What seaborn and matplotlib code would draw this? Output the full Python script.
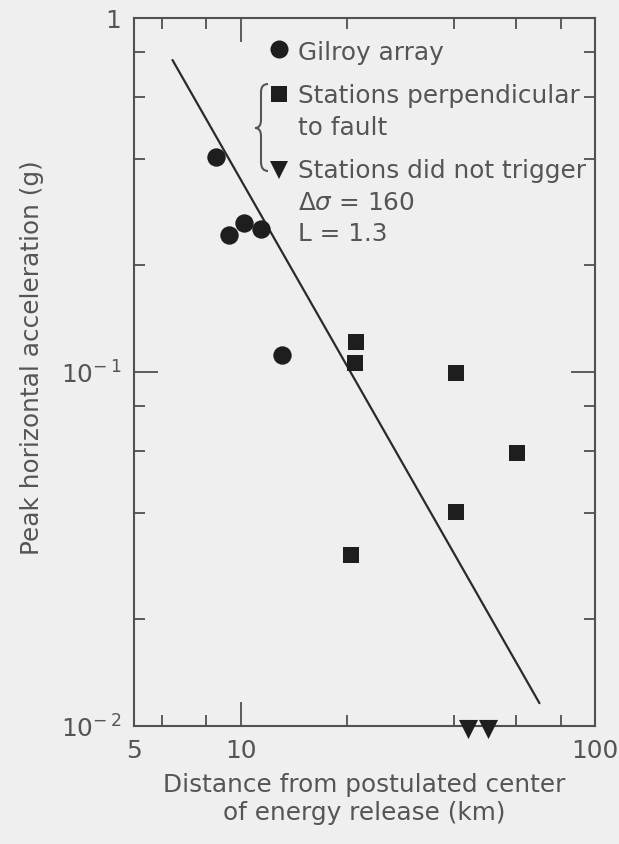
import numpy as np
import pandas as pd
import matplotlib
matplotlib.use("Agg")
import matplotlib.pyplot as plt
import seaborn as sns
from matplotlib.path import Path
from matplotlib.patches import PathPatch
from matplotlib.ticker import FixedLocator, FixedFormatter, NullFormatter

# ---------------- data ----------------
gilroy_dist = [8.5, 9.3, 10.2, 11.4, 13.1]
gilroy_acc = [0.405, 0.244, 0.263, 0.254, 0.112]

perp_dist = [21.2, 21.0, 40.4, 60.4, 40.6, 20.5]
perp_acc = [0.1215, 0.106, 0.0994, 0.059, 0.0402, 0.0304]

notrig_dist = [43.9, 50.0]
notrig_acc = [0.0098, 0.0098]

fit_dist = [6.42, 69.7]
fit_acc = [0.761, 0.0116]

legend_labels = ["Gilroy array", "Stations perpendicular", "to fault",
                 "Stations did not trigger"]
param_lines = [r"$\Delta\sigma$ = 160", "L = 1.3"]

x_major = [5, 10, 100]
x_major_labels = ["5", "10", "100"]
x_minor = [6, 8, 20, 40, 60, 80]
y_major = [0.01, 0.1, 1]
y_major_labels = [r"$10^{-\,2}$", r"$10^{-\,1}$", "1"]
y_minor = [0.02, 0.04, 0.06, 0.08, 0.2, 0.4, 0.6, 0.8]

x_label = "Distance from postulated center\nof energy release (km)"
y_label = "Peak horizontal acceleration (g)"

# ---------------- style ----------------
sns.set_theme(style="ticks")
BG = "#efefef"
TXT = "#555555"
INK = "#1e1e1e"
FRAME = "#505050"
plt.rcParams["font.family"] = ["DejaVu Sans"]
plt.rcParams["mathtext.fontset"] = "dejavusans"

W, H = 619, 844
fig = plt.figure(figsize=(W / 100, H / 100), dpi=100, facecolor=BG)
ax = fig.add_axes([134 / W, (H - 726) / H, 461 / W, 708 / H])
ax.set_facecolor(BG)
ax.set_xscale("log")
ax.set_yscale("log")
ax.set_xlim(5, 100)
ax.set_ylim(0.01, 1)

FS = 17.8

# fitted line
sns.lineplot(x=fit_dist, y=fit_acc, ax=ax, color="#2a2a2a", linewidth=1.6,
             sort=False, estimator=None)

# points
sns.scatterplot(x=gilroy_dist, y=gilroy_acc, ax=ax, marker="o", s=175,
                color=INK, linewidth=0, zorder=3)
sns.scatterplot(x=perp_dist, y=perp_acc, ax=ax, marker="s", s=135,
                color=INK, linewidth=0, zorder=3)
sns.scatterplot(x=notrig_dist, y=notrig_acc, ax=ax, marker="v", s=190,
                color=INK, linewidth=0, zorder=3, clip_on=False)

# ticks
ax.xaxis.set_major_locator(FixedLocator(x_major))
ax.xaxis.set_major_formatter(FixedFormatter(x_major_labels))
ax.xaxis.set_minor_locator(FixedLocator(x_minor))
ax.xaxis.set_minor_formatter(NullFormatter())
ax.yaxis.set_major_locator(FixedLocator(y_major))
ax.yaxis.set_major_formatter(FixedFormatter(y_major_labels))
ax.yaxis.set_minor_locator(FixedLocator(y_minor))
ax.yaxis.set_minor_formatter(NullFormatter())
ax.tick_params(which="both", direction="in", top=True, right=True,
               color=FRAME, labelcolor=TXT, labelsize=FS, width=1.3)
ax.tick_params(which="major", length=17, pad=9)
ax.tick_params(which="minor", length=8)
for sp in ax.spines.values():
    sp.set_color(FRAME)
    sp.set_linewidth(1.5)

ax.set_xlabel(x_label, fontsize=FS, color=TXT, linespacing=1.2)
ax.xaxis.set_label_coords(0.5, -0.066)
ax.xaxis.label.set_va("top")
ax.set_ylabel(y_label, fontsize=FS, color=TXT)
ax.yaxis.set_label_coords(-0.195, 0.52)

# ---------------- legend block ----------------
def px(x, y):
    return x / W, 1 - y / H

mx = 279
for (yy, mk, ms) in [(49, "o", 13), (94, "s", 11.5), (170, "v", 13)]:
    fx, fy = px(mx, yy)
    ax.plot([fx], [fy], marker=mk, markersize=ms, color=INK, linestyle="none",
            markeredgewidth=0, transform=fig.transFigure, clip_on=False)

tx = 298
baselines = [60, 103, 135, 178, 210, 241]
texts = legend_labels + param_lines
for t, b in zip(texts, baselines):
    fx, fy = px(tx, b)
    fig.text(fx, fy, t, fontsize=FS, color=TXT, ha="left", va="baseline")

verts = [(268, 84), (261, 84), (261, 92), (261, 120), (261, 128), (255, 128),
         (261, 128), (261, 136), (261, 162), (261, 171), (268, 171)]
codes = [Path.MOVETO, Path.CURVE3, Path.CURVE3, Path.LINETO, Path.CURVE3,
         Path.CURVE3, Path.CURVE3, Path.CURVE3, Path.LINETO, Path.CURVE3,
         Path.CURVE3]
brace = Path([px(x, y) for x, y in verts], codes)
fig.add_artist(PathPatch(brace, transform=fig.transFigure, fill=False,
                         edgecolor=TXT, linewidth=1.5))

fig.savefig("out.png", dpi=100, facecolor=BG)
